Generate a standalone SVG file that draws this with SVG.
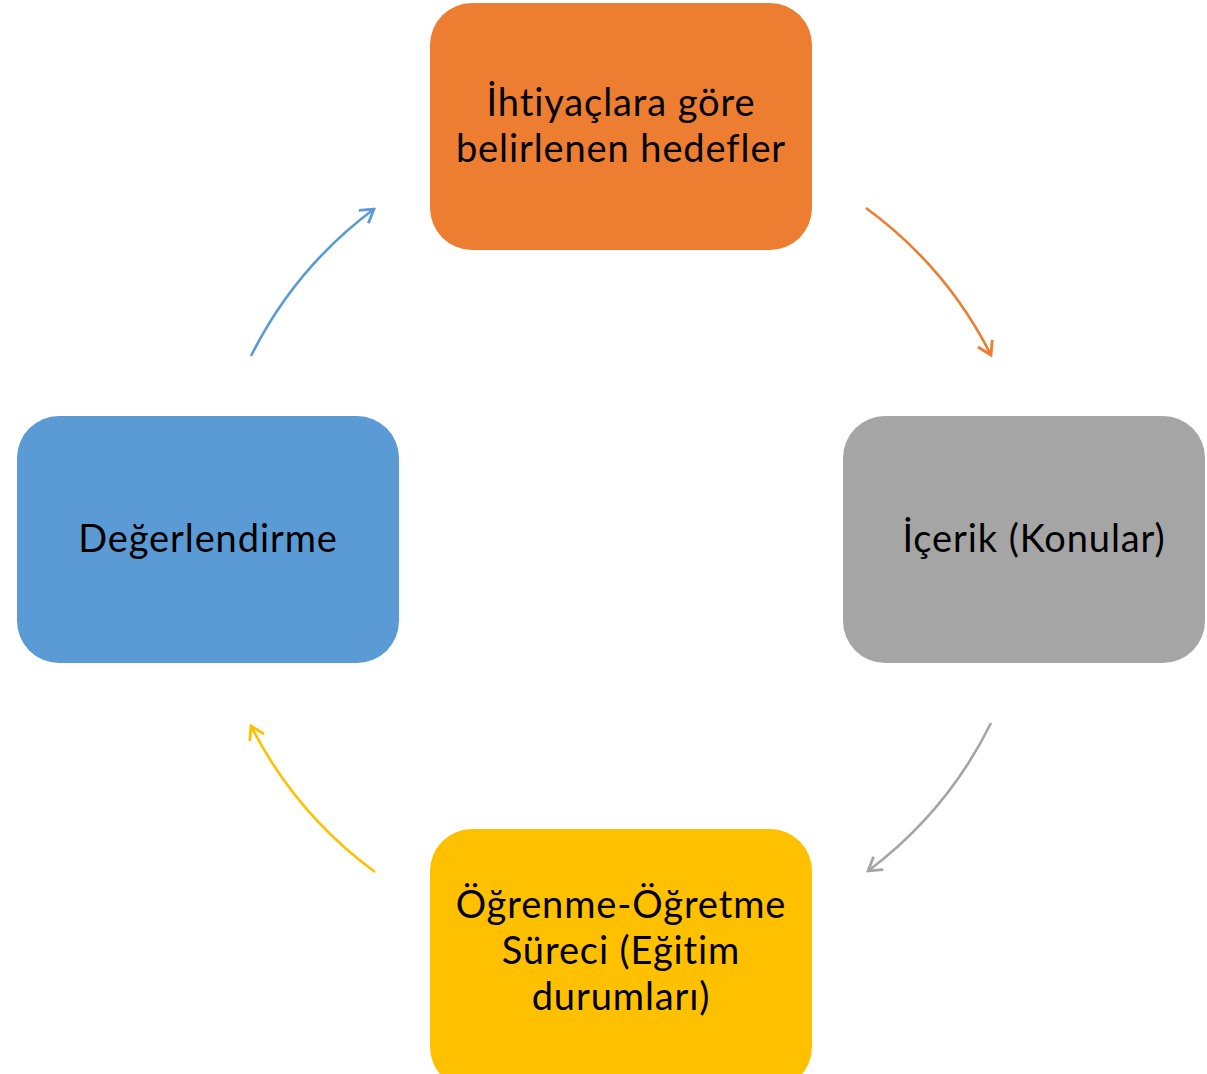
<svg xmlns="http://www.w3.org/2000/svg" width="1207" height="1074" viewBox="0 0 1207 1074">
<style>
.t{font-family:Lato,"Open Sans","Liberation Sans",sans-serif;font-size:38px;letter-spacing:0.9px;fill:#000;text-anchor:middle}
.c{fill:none;stroke-width:2.6}
</style>
<defs>
<marker id="mo" viewBox="-15 -10 17 20" markerWidth="17" markerHeight="20" refX="0" refY="0" orient="auto" markerUnits="userSpaceOnUse"><path d="M-13,-8 L0,0 L-13,8" fill="none" stroke="#ED7D31" stroke-width="2.8"/></marker>
<marker id="mg" viewBox="-15 -10 17 20" markerWidth="17" markerHeight="20" refX="0" refY="0" orient="auto" markerUnits="userSpaceOnUse"><path d="M-13,-8 L0,0 L-13,8" fill="none" stroke="#A5A5A5" stroke-width="2.8"/></marker>
<marker id="my" viewBox="-15 -10 17 20" markerWidth="17" markerHeight="20" refX="0" refY="0" orient="auto" markerUnits="userSpaceOnUse"><path d="M-13,-8 L0,0 L-13,8" fill="none" stroke="#FFC000" stroke-width="2.8"/></marker>
<marker id="mb" viewBox="-15 -10 17 20" markerWidth="17" markerHeight="20" refX="0" refY="0" orient="auto" markerUnits="userSpaceOnUse"><path d="M-13,-8 L0,0 L-13,8" fill="none" stroke="#5B9BD5" stroke-width="2.8"/></marker>
</defs>
<rect width="1207" height="1074" fill="#fff"/>
<g id="connectors">
<path class="c" stroke="#ED7D31" d="M866,208 A414,414 0 0 1 991,355" marker-end="url(#mo)"/>
<path class="c" stroke="#A5A5A5" d="M991,723 A414,414 0 0 1 868,871" marker-end="url(#mg)"/>
<path class="c" stroke="#FFC000" d="M375,872 A414,414 0 0 1 251,726" marker-end="url(#my)"/>
<path class="c" stroke="#5B9BD5" d="M251,356 A414,414 0 0 1 374,209" marker-end="url(#mb)"/>
</g>
<g id="hedefler">
<rect x="430" y="3" width="382" height="247" rx="42" fill="#ED7D31"/>
<text class="t" x="621" y="116">İhtiyaçlara göre</text>
<text class="t" x="621" y="162">belirlenen hedefler</text>
</g>
<g id="icerik">
<rect x="843" y="416" width="362" height="247" rx="42" fill="#A5A5A5"/>
<text class="t" x="1034" y="552">İçerik (Konular)</text>
</g>
<g id="surec">
<rect x="430" y="829" width="382" height="260" rx="42" fill="#FFC000"/>
<text class="t" x="621" y="918">Öğrenme-Öğretme</text>
<text class="t" x="621" y="964">Süreci (Eğitim</text>
<text class="t" x="621" y="1010">durumları)</text>
</g>
<g id="degerlendirme">
<rect x="17" y="416" width="382" height="247" rx="42" fill="#5B9BD5"/>
<text class="t" x="208" y="552">Değerlendirme</text>
</g>
</svg>
